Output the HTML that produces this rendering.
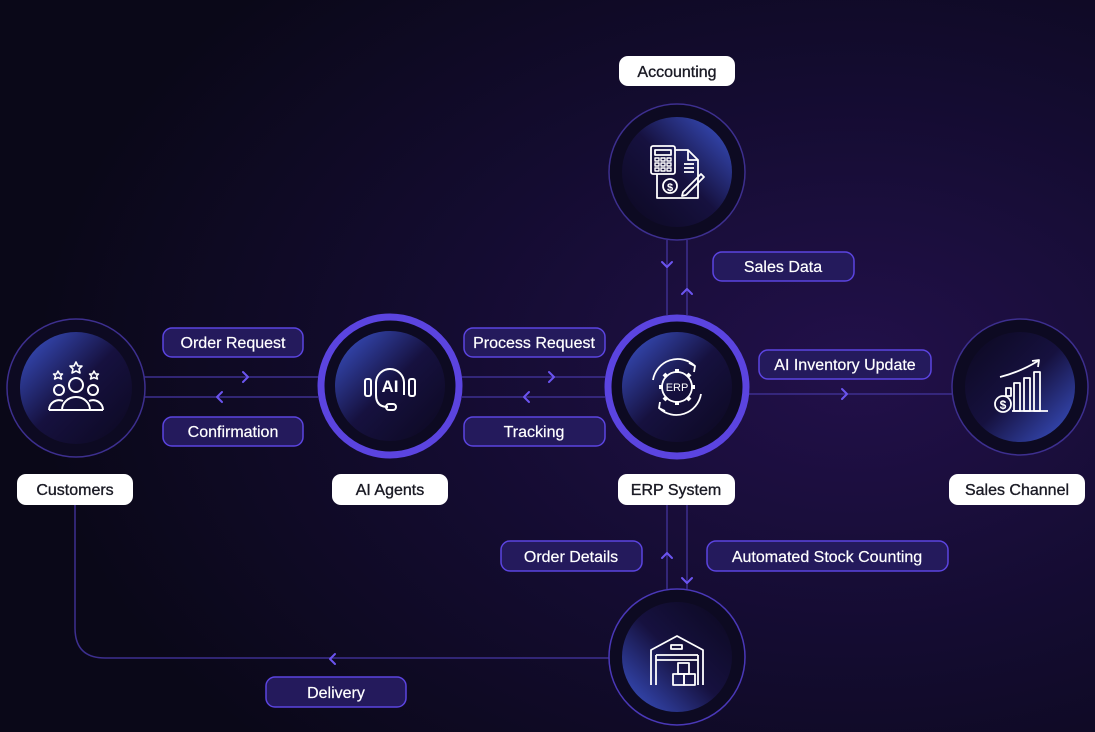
<!DOCTYPE html>
<html><head><meta charset="utf-8"><style>
html,body{margin:0;padding:0;background:#0c0a1c;}
svg{display:block}
text{font-family:"Liberation Sans",sans-serif;}
</style></head><body>
<svg width="1095" height="732" viewBox="0 0 1095 732" xmlns="http://www.w3.org/2000/svg">
<defs>
<radialGradient id="bg" cx="0.78" cy="0.5" r="0.75">
<stop offset="0" stop-color="#22104a"/><stop offset="0.5" stop-color="#140c31"/><stop offset="1" stop-color="#0a0818"/>
</radialGradient>
<linearGradient id="gTL" x1="0.1" y1="0.1" x2="0.9" y2="0.9"><stop offset="0" stop-color="#3447b0"/><stop offset="0.5" stop-color="#16113f"/><stop offset="1" stop-color="#0e0a26"/></linearGradient>
<linearGradient id="gTR" x1="0.9" y1="0.1" x2="0.1" y2="0.9"><stop offset="0" stop-color="#3447b0"/><stop offset="0.5" stop-color="#16113f"/><stop offset="1" stop-color="#0e0a26"/></linearGradient>
<linearGradient id="gBL" x1="0.1" y1="0.9" x2="0.9" y2="0.1"><stop offset="0" stop-color="#3447b0"/><stop offset="0.5" stop-color="#16113f"/><stop offset="1" stop-color="#0e0a26"/></linearGradient>
<linearGradient id="gBR" x1="0.9" y1="0.9" x2="0.1" y2="0.1"><stop offset="0" stop-color="#3447b0"/><stop offset="0.5" stop-color="#16113f"/><stop offset="1" stop-color="#0e0a26"/></linearGradient>
</defs>
<rect width="1095" height="732" fill="url(#bg)"/>

<g stroke="#3d2f8f" stroke-width="1.5" fill="none">
<line x1="144" y1="377" x2="318" y2="377"/><line x1="144" y1="397" x2="318" y2="397"/>
<line x1="462" y1="377" x2="605" y2="377"/><line x1="462" y1="397" x2="605" y2="397"/>
<line x1="749" y1="394" x2="952" y2="394"/>
<line x1="667" y1="240" x2="667" y2="315"/><line x1="687" y1="240" x2="687" y2="315"/>
<line x1="667" y1="505" x2="667" y2="589"/><line x1="687" y1="505" x2="687" y2="589"/>
<path d="M75 505 V628 Q75 658 105 658 H609"/>
</g>
<g stroke="#6b54f0" stroke-width="2" fill="none" stroke-linecap="round" stroke-linejoin="round">
<polyline points="243,372 248,377 243,382"/><polyline points="222,392 217,397 222,402"/>
<polyline points="549,372 554,377 549,382"/><polyline points="529,392 524,397 529,402"/>
<polyline points="842,389 847,394 842,399"/>
<polyline points="662,262 667,267 672,262"/><polyline points="682,294 687,289 692,294"/>
<polyline points="662,558 667,553 672,558"/><polyline points="682,578 687,583 692,578"/>
<polyline points="335,654 330,659 335,664"/>
</g>

<!-- circles -->
<circle cx="76" cy="388" r="69" fill="#0d0a22" stroke="#3d2f8f" stroke-width="1.5"/>
<circle cx="76" cy="388" r="56" fill="url(#gTL)"/>
<circle cx="390" cy="386" r="69" fill="#0d0a22" stroke="#5b44e0" stroke-width="7"/>
<circle cx="390" cy="386" r="55" fill="url(#gTL)"/>
<circle cx="677" cy="387" r="69" fill="#0d0a22" stroke="#5b44e0" stroke-width="7"/>
<circle cx="677" cy="387" r="55" fill="url(#gTL)"/>
<circle cx="1020" cy="387" r="68" fill="#0d0a22" stroke="#3d2f8f" stroke-width="1.5"/>
<circle cx="1020" cy="387" r="55" fill="url(#gBR)"/>
<circle cx="677" cy="172" r="68" fill="#0d0a22" stroke="#3d2f8f" stroke-width="1.5"/>
<circle cx="677" cy="172" r="55" fill="url(#gTR)"/>
<circle cx="677" cy="657" r="68" fill="#0d0a22" stroke="#4a38b8" stroke-width="1.5"/>
<circle cx="677" cy="657" r="55" fill="url(#gBL)"/>

<!-- icons -->
<g stroke="#fff" stroke-width="2" fill="none" stroke-linejoin="round">
<!-- customers -->
<circle cx="76" cy="385" r="7"/><path d="M62 410 a14 13 0 0 1 28 0 z"/>
<circle cx="59" cy="390" r="5"/><path d="M49 410 a10 10 0 0 1 14 -9"/><line x1="49" y1="410" x2="62" y2="410"/>
<circle cx="93" cy="390" r="5"/><path d="M103 410 a10 10 0 0 0 -14 -9"/><line x1="90" y1="410" x2="103" y2="410"/>
<path d="M76 362 l2 4 4 0 -3 3 1 4 -4 -2 -4 2 1 -4 -3 -3 4 0z" stroke-width="1.6"/>
<path d="M58 371 l1.5 3 3 0 -2 2 1 3 -3.5 -1.5 -3.5 1.5 1 -3 -2 -2 3 0z" stroke-width="1.5"/>
<path d="M94 371 l1.5 3 3 0 -2 2 1 3 -3.5 -1.5 -3.5 1.5 1 -3 -2 -2 3 0z" stroke-width="1.5"/>
<!-- AI -->
<path d="M376 395 v-12 a14 14 0 0 1 28 0 v12"/>
<rect x="365" y="379" width="6" height="17" rx="2"/><rect x="409" y="379" width="6" height="17" rx="2"/>
<path d="M376 395 q0 12 12 12"/><rect x="386" y="404" width="10" height="6" rx="3"/>
</g>
<text x="390" y="392" font-size="17" font-weight="700" fill="#fff" text-anchor="middle">AI</text>
<g stroke="#fff" stroke-width="1.8" fill="none" stroke-linejoin="round">
<!-- ERP gear -->
<circle cx="677" cy="387" r="15"/>
<g stroke-width="4" stroke-linecap="butt">
<line x1="677" y1="369" x2="677" y2="373"/><line x1="677" y1="401" x2="677" y2="405"/>
<line x1="659" y1="387" x2="663" y2="387"/><line x1="691" y1="387" x2="695" y2="387"/>
<line x1="664" y1="374" x2="667" y2="377"/><line x1="687" y1="397" x2="690" y2="400"/>
<line x1="690" y1="374" x2="687" y2="377"/><line x1="667" y1="397" x2="664" y2="400"/>
</g>
<path d="M653 380 a25 25 0 0 1 42 -14"/><polyline points="689,363 695,366 694,372"/>
<path d="M701 394 a25 25 0 0 1 -42 14"/><polyline points="665,411 659,408 660,402"/>
<!-- sales -->
<path d="M1012 411 h36"/><rect x="1014" y="383" width="6" height="28"/><rect x="1024" y="378" width="6" height="33"/><rect x="1034" y="372" width="6" height="39"/>
<rect x="1006" y="388" width="5" height="8"/>
<path d="M1000 377 q20 -5 38 -16"/><polyline points="1032,361 1039,360 1038,367"/>
<circle cx="1003" cy="404" r="8"/>
<!-- accounting -->
<rect x="651" y="146" width="24" height="28" rx="2"/><rect x="655" y="150" width="16" height="5"/>
<g stroke-width="1.4"><rect x="655" y="158" width="4" height="3"/><rect x="661" y="158" width="4" height="3"/><rect x="667" y="158" width="4" height="3"/>
<rect x="655" y="163" width="4" height="3"/><rect x="661" y="163" width="4" height="3"/><rect x="667" y="163" width="4" height="3"/>
<rect x="655" y="168" width="4" height="3"/><rect x="661" y="168" width="4" height="3"/><rect x="667" y="168" width="4" height="3"/></g>
<path d="M675 150 h13 l10 10 v38 h-41 v-24"/><path d="M688 150 v10 h10"/>
<line x1="684" y1="164" x2="694" y2="164"/><line x1="684" y1="168" x2="694" y2="168"/><line x1="684" y1="172" x2="694" y2="172"/>
<circle cx="670" cy="186" r="7"/><path d="M683 192 l18 -18 3 3 -18 18 -4 1z"/>
<!-- warehouse -->
<path d="M651 685 v-35 l26 -14 26 14 v35"/><rect x="671" y="645" width="11" height="4"/>
<line x1="656" y1="655" x2="698" y2="655"/><line x1="656" y1="660" x2="698" y2="660"/>
<line x1="656" y1="655" x2="656" y2="685"/><line x1="698" y1="655" x2="698" y2="685"/>
<rect x="673" y="674" width="11" height="11"/><rect x="684" y="674" width="11" height="11"/><rect x="678" y="663" width="11" height="11"/>
</g>
<text x="1003" y="409" font-size="12" font-weight="700" fill="#fff" text-anchor="middle">$</text>
<text x="670" y="191" font-size="11" font-weight="700" fill="#fff" text-anchor="middle">$</text>
<text x="677" y="391" font-size="11" fill="#fff" text-anchor="middle">ERP</text>

<!-- white labels -->
<g fill="#fff">
<rect x="619" y="56" width="116" height="30" rx="9"/>
<rect x="17" y="474" width="116" height="31" rx="9"/>
<rect x="332" y="474" width="116" height="31" rx="9"/>
<rect x="618" y="474" width="117" height="31" rx="9"/>
<rect x="949" y="474" width="136" height="31" rx="9"/>
</g>
<g font-size="16" fill="#1a1a24" text-anchor="middle" stroke="#1a1a24" stroke-width="0.35">
<text x="677" y="77">Accounting</text>
<text x="75" y="495">Customers</text>
<text x="390" y="495">AI Agents</text>
<text x="676" y="495">ERP System</text>
<text x="1017" y="495">Sales Channel</text>
</g>

<!-- purple labels -->
<g fill="#241a5c" stroke="#5b44e0" stroke-width="1.5">
<rect x="163" y="328" width="140" height="29" rx="9"/>
<rect x="163" y="417" width="140" height="29" rx="9"/>
<rect x="464" y="328" width="141" height="29" rx="9"/>
<rect x="464" y="417" width="141" height="29" rx="9"/>
<rect x="759" y="350" width="172" height="29" rx="9"/>
<rect x="713" y="252" width="141" height="29" rx="9"/>
<rect x="501" y="541" width="141" height="30" rx="9"/>
<rect x="707" y="541" width="241" height="30" rx="9"/>
<rect x="266" y="677" width="140" height="30" rx="9"/>
</g>
<g font-size="16" fill="#fff" text-anchor="middle" stroke="#fff" stroke-width="0.2">
<text x="233" y="348">Order Request</text>
<text x="233" y="437">Confirmation</text>
<text x="534" y="348">Process Request</text>
<text x="534" y="437">Tracking</text>
<text x="845" y="370">AI Inventory Update</text>
<text x="783" y="272">Sales Data</text>
<text x="571" y="562">Order Details</text>
<text x="827" y="562">Automated Stock Counting</text>
<text x="336" y="698">Delivery</text>
</g>
</svg>
</body></html>
